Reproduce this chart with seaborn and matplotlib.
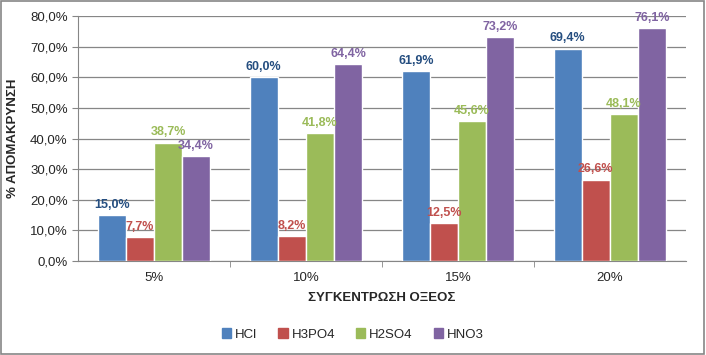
import pandas as pd
import matplotlib.pyplot as plt
import matplotlib.ticker as mticker
from matplotlib.patches import Rectangle
import seaborn as sns

# Datos
categorias = ['5%', '10%', '15%', '20%']
acidos = ['HCl', 'H3PO4', 'H2SO4', 'HNO3']
hcl = [15.0, 60.0, 61.9, 69.4]
h3po4 = [7.7, 8.2, 12.5, 26.6]
h2so4 = [38.7, 41.8, 45.6, 48.1]
hno3 = [34.4, 64.4, 73.2, 76.1]

colores = ['#4F81BD', '#C0504D', '#9BBB59', '#8064A2']
colores_texto = ['#254E80', '#C0504D', '#9BBB59', '#8064A2']

filas = []
for acido, valores in zip(acidos, [hcl, h3po4, h2so4, hno3]):
    for cat, v in zip(categorias, valores):
        filas.append({'conc': cat, 'acido': acido, 'valor': v})
df = pd.DataFrame(filas)

sns.set_style('white')
plt.rcParams['font.family'] = ['Liberation Sans', 'DejaVu Sans']

fig = plt.figure(figsize=(7.06, 3.55), dpi=100)
ax = fig.add_axes([0.1105, 0.2648, 0.861, 0.690])

sns.barplot(data=df, x='conc', y='valor', hue='acido', palette=colores,
            width=0.74, saturation=1, ax=ax, legend=False, zorder=3)

for cont, col in zip(ax.containers, colores_texto):
    etiquetas = [f'{b.get_height():.1f}%'.replace('.', ',') for b in cont]
    ax.bar_label(cont, labels=etiquetas, padding=3, color=col,
                 fontsize=9, fontweight='bold')

ax.set_ylim(0, 80)
ax.set_xlim(-0.5, 3.5)
ax.yaxis.set_major_locator(mticker.MultipleLocator(10))
ax.yaxis.set_major_formatter(mticker.FuncFormatter(lambda v, p: f'{v:.1f}%'.replace('.', ',')))
ax.grid(axis='y', color='#868686', linewidth=0.9, zorder=0)
ax.set_axisbelow(True)
for s in ['top', 'right']:
    ax.spines[s].set_visible(False)
for s in ['left', 'bottom']:
    ax.spines[s].set_color('#868686')
ax.tick_params(axis='y', length=4, color='#868686', labelsize=9.5, left=True)
ax.tick_params(axis='x', length=0, labelsize=9.5, pad=8)
ax.set_xticks([0.5, 1.5, 2.5], minor=True)
ax.tick_params(axis='x', which='minor', length=4, color='#868686', bottom=True)

ax.set_xlabel('ΣΥΓΚΕΝΤΡΩΣΗ ΟΞΕΟΣ', fontsize=9.5, fontweight='bold', labelpad=6)
ax.set_ylabel('% ΑΠΟΜΑΚΡΥΝΣΗ', fontsize=9.5, fontweight='bold', labelpad=8)

handles = [Rectangle((0, 0), 1, 1, color=c) for c in colores]
fig.legend(handles, acidos, loc='center', bbox_to_anchor=(0.5, 0.058), ncol=4,
           frameon=False, fontsize=9.5, handlelength=0.7, handleheight=0.7,
           handletextpad=0.3, columnspacing=1.6)

fig.patches.append(Rectangle((0.002, 0.003), 0.995, 0.994, transform=fig.transFigure,
                             fill=False, edgecolor='#868686', linewidth=1.2))

fig.savefig('out.png', dpi=100)
